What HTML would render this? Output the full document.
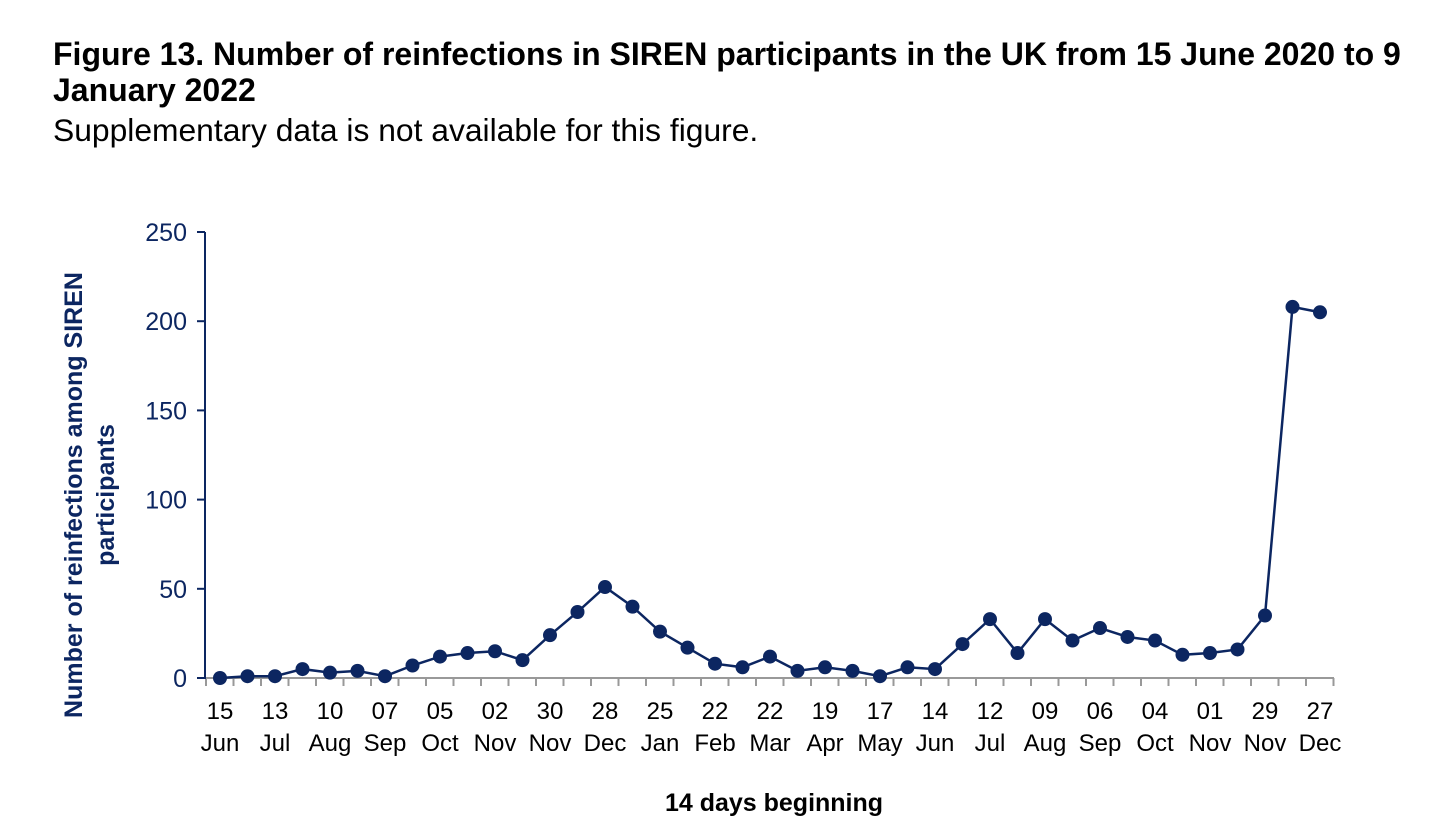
<!DOCTYPE html>
<html><head><meta charset="utf-8"><style>
body{margin:0;width:1440px;height:830px;background:#fff;overflow:hidden;font-family:"Liberation Sans",Arial,sans-serif}
.t{position:absolute;left:53px;color:#000;white-space:nowrap}
</style></head><body>
<div class="t" style="top:36px;font-size:32px;font-weight:bold;line-height:36px">Figure 13. Number of reinfections in SIREN participants in the UK from 15 June 2020 to 9<br>January 2022</div>
<div class="t" style="top:111px;font-size:31.8px;line-height:38px">Supplementary data is not available for this figure.</div>
<svg width="1440" height="830" style="position:absolute;left:0;top:0" font-family="Liberation Sans, Arial, sans-serif">
<g id="c"></g>
</svg>
<script>
const vals=[0,1,1,5,3,4,1,7,12,14,15,10,24,37,51,40,26,17,8,6,12,4,6,4,1,6,5,19,33,14,33,21,28,23,21,13,14,16,35,208,205];
const labs=[["15","Jun"],["13","Jul"],["10","Aug"],["07","Sep"],["05","Oct"],["02","Nov"],["30","Nov"],["28","Dec"],["25","Jan"],["22","Feb"],["22","Mar"],["19","Apr"],["17","May"],["14","Jun"],["12","Jul"],["09","Aug"],["06","Sep"],["04","Oct"],["01","Nov"],["29","Nov"],["27","Dec"]];
const X=i=>220+i*27.5, Y=v=>678-v*1.784;
let s='';
const nav='#0c2661';
s+=`<line x1="206" y1="678" x2="1334" y2="678" stroke="#999" stroke-width="2"/>`;
for(let i=0;i<=41;i++){const x=206+i*27.5;s+=`<line x1="${x}" y1="678" x2="${x}" y2="686" stroke="#999" stroke-width="2"/>`;}
s+=`<line x1="205" y1="232" x2="205" y2="679" stroke="${nav}" stroke-width="2"/>`;
for(let v=0;v<=250;v+=50){const y=Y(v);s+=`<line x1="197" y1="${y}" x2="205" y2="${y}" stroke="${nav}" stroke-width="2"/><text x="187" y="${y+9}" font-size="25" fill="${nav}" text-anchor="end">${v}</text>`;}
labs.forEach((l,k)=>{const x=X(k*2);s+=`<text x="${x}" y="719" font-size="24" fill="#000" text-anchor="middle">${l[0]}</text><text x="${x}" y="751" font-size="24" fill="#000" text-anchor="middle">${l[1]}</text>`;});
s+=`<polyline fill="none" stroke="${nav}" stroke-width="2.5" points="${vals.map((v,i)=>X(i)+','+Y(v)).join(' ')}"/>`;
vals.forEach((v,i)=>{s+=`<circle cx="${X(i)}" cy="${Y(v)}" r="7" fill="${nav}"/>`;});
s+=`<text x="774" y="811" font-size="25" font-weight="bold" text-anchor="middle">14 days beginning</text>`;
s+=`<text transform="translate(82,495) rotate(-90)" font-size="25" font-weight="bold" fill="${nav}" text-anchor="middle">Number of reinfections among SIREN</text>`;
s+=`<text transform="translate(114,495) rotate(-90)" font-size="25" font-weight="bold" fill="${nav}" text-anchor="middle">participants</text>`;
document.getElementById('c').innerHTML=s;
</script>
</body></html>
